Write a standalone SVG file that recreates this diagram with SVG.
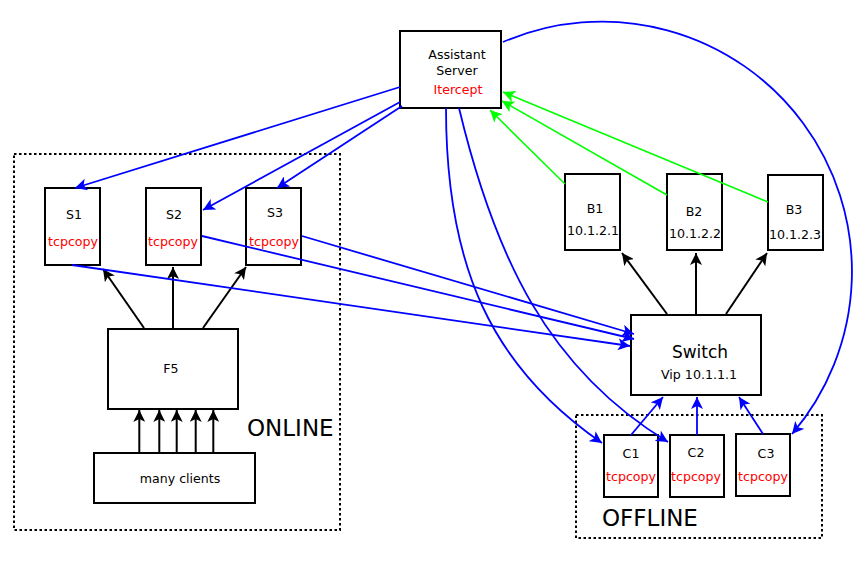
<svg xmlns="http://www.w3.org/2000/svg" width="867" height="566" viewBox="0 0 867 566">
<style>
.box{fill:#fff;stroke:#000;stroke-width:2}
.grp{fill:none;stroke:#000;stroke-width:2;stroke-dasharray:2.5 2.5}
text{font-family:"DejaVu Sans","Liberation Sans",sans-serif;font-size:12.6px;fill:#000;text-anchor:middle}
.red{fill:#ff0000}
.big{font-size:23px;text-anchor:start}
.blk{fill:none;stroke:#000;stroke-width:2;marker-end:url(#ak)}
.blu{fill:none;stroke:#0000ff;stroke-width:1.8;marker-end:url(#ab)}
.grn{fill:none;stroke:#00ff00;stroke-width:1.6;marker-end:url(#ag)}
</style>
<defs>
<marker id="ak" viewBox="0 0 12 12" refX="12" refY="6" markerWidth="12" markerHeight="12" orient="auto" markerUnits="userSpaceOnUse"><path d="M0,0 L12,6 L0,12 L3,6 z" fill="#000"/></marker>
<marker id="ab" viewBox="0 0 12 12" refX="12" refY="6" markerWidth="12" markerHeight="12" orient="auto" markerUnits="userSpaceOnUse"><path d="M0,0 L12,6 L0,12 L3,6 z" fill="#0000ff"/></marker>
<marker id="ag" viewBox="0 0 12 12" refX="12" refY="6" markerWidth="12" markerHeight="12" orient="auto" markerUnits="userSpaceOnUse"><path d="M0,0 L12,6 L0,12 L3,6 z" fill="#00ff00"/></marker>
</defs>
<rect width="867" height="566" fill="#fff"/>

<g id="online">
<rect class="grp" x="14" y="154" width="326" height="376"/>
<text class="big" x="247" y="436">ONLINE</text>
</g>
<g id="offline">
<rect class="grp" x="576" y="415" width="246" height="123"/>
<text class="big" x="602" y="526">OFFLINE</text>
</g>

<g id="assistant">
<rect class="box" x="400" y="31" width="101" height="77"/>
<text x="457" y="59">Assistant</text>
<text x="457" y="75">Server</text>
<text class="red" x="458" y="94">Itercept</text>
</g>

<g id="s1"><rect class="box" x="45" y="188" width="55" height="77"/><text x="74" y="219">S1</text><text class="red" x="73" y="246">tcpcopy</text></g>
<g id="s2"><rect class="box" x="146" y="188" width="55" height="77"/><text x="174" y="219">S2</text><text class="red" x="173" y="246">tcpcopy</text></g>
<g id="s3"><rect class="box" x="246" y="188" width="55" height="77"/><text x="275" y="217">S3</text><text class="red" x="274" y="246">tcpcopy</text></g>

<g id="f5"><rect class="box" x="108" y="329" width="130" height="80"/><text x="171" y="373">F5</text></g>
<g id="clients"><rect class="box" x="94" y="453" width="161" height="50"/><text x="180" y="483">many clients</text></g>

<g id="b1"><rect class="box" x="565" y="174" width="55" height="76"/><text x="595" y="213">B1</text><text x="593" y="235">10.1.2.1</text></g>
<g id="b2"><rect class="box" x="667" y="174" width="55" height="76"/><text x="694" y="216">B2</text><text x="695" y="238">10.1.2.2</text></g>
<g id="b3"><rect class="box" x="768" y="175" width="55" height="75"/><text x="794" y="214">B3</text><text x="795" y="239">10.1.2.3</text></g>

<g id="switch"><rect class="box" x="631" y="315" width="130" height="80"/><text x="700" y="358" style="font-size:17px">Switch</text><text x="699" y="379">Vip 10.1.1.1</text></g>

<g id="c1"><rect class="box" x="604" y="435" width="54" height="62"/><text x="631" y="458">C1</text><text class="red" x="631" y="481">tcpcopy</text></g>
<g id="c2"><rect class="box" x="670" y="435" width="54" height="62"/><text x="696" y="457">C2</text><text class="red" x="696" y="481">tcpcopy</text></g>
<g id="c3"><rect class="box" x="736" y="434" width="54" height="62"/><text x="766" y="458">C3</text><text class="red" x="763" y="481">tcpcopy</text></g>

<g id="connectors">
<path class="blk" d="M139.3,453 V410"/>
<path class="blk" d="M159.3,453 V410"/>
<path class="blk" d="M176.7,453 V410"/>
<path class="blk" d="M195.7,453 V410"/>
<path class="blk" d="M213.3,453 V410"/>
<path class="blk" d="M144,328 L103,269"/>
<path class="blk" d="M173,328 V267"/>
<path class="blk" d="M203,328 L246,267"/>
<path class="blk" d="M667,314 L622,253"/>
<path class="blk" d="M696,314 V253"/>
<path class="blk" d="M726,314 L767,253"/>

<path class="blu" d="M631,435 L663,397"/>
<path class="blu" d="M697,435 V397"/>
<path class="blu" d="M763,434 L739,397"/>

<path class="blu" d="M400,87 L75,188"/>
<path class="blu" d="M400,102 L203,210"/>
<path class="blu" d="M402,106 L277,188"/>
<path class="blu" d="M72,265 L630,346"/>
<path class="blu" d="M202,236 L634,339"/>
<path class="blu" d="M302,236 L634,334"/>

<path class="blu" d="M446,108 C446,268 492,367 602,443"/>
<path class="blu" d="M459,108 C495,258 548,369 668,442"/>
<path class="blu" d="M503,42 A250,250 0 0,1 792,434"/>

<path class="grn" d="M565,184 L490,110"/>
<path class="grn" d="M667,195 L502,101"/>
<path class="grn" d="M768,202 L503,92"/>
</g>
</svg>
